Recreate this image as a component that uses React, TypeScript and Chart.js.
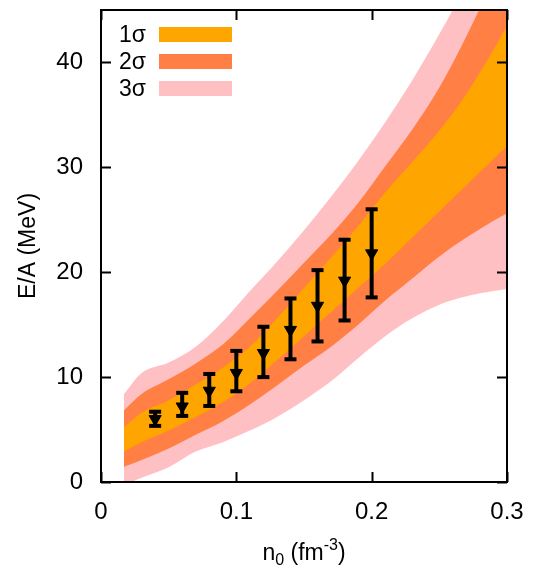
import React, { useEffect, useRef } from "react";
import { Chart, registerables } from "chart.js";
Chart.register(...registerables);

// density grid for the uncertainty bands (fm^-3)
const bandX = [0.017, 0.03, 0.05, 0.07, 0.09, 0.11, 0.13, 0.15, 0.17, 0.19, 0.21, 0.23, 0.25, 0.27, 0.29, 0.3];
const sigma3Upper = [8.4, 10.4, 11.4, 12.9, 15.3, 18.2, 21.0, 24.0, 27.2, 30.6, 34.3, 38.3, 42.7, 47.5, 53, 56];
const sigma2Upper = [6.85, 8.4, 9.8, 11.3, 13.1, 15.6, 18.2, 20.9, 23.6, 26.6, 30.1, 33.6, 37.6, 42.5, 48, 51];
const sigma1Upper = [5.2, 6.6, 7.8, 9.3, 10.9, 12.9, 15.6, 18.5, 21.4, 24.4, 27.6, 30.5, 33.5, 37.0, 41.2, 43.5];
const sigma1Lower = [2.9, 3.8, 4.9, 6.2, 7.6, 9.4, 11.6, 13.9, 16.2, 18.5, 20.8, 23.3, 25.8, 28.3, 30.8, 32.0];
const sigma2Lower = [1.45, 2.1, 3.2, 4.5, 5.8, 7.4, 9.2, 11.1, 12.9, 15.0, 17.3, 19.4, 21.5, 23.3, 24.9, 25.6];
const sigma3Lower = [-0.3, 0.4, 1.4, 2.9, 3.8, 4.9, 6.2, 7.8, 9.6, 11.8, 13.9, 15.6, 16.9, 17.7, 18.2, 18.4];

// data points with error bars
const pointX = [0.04, 0.06, 0.08, 0.1, 0.12, 0.14, 0.16, 0.18, 0.2];
const pointE = [6.0, 7.2, 8.7, 10.4, 12.3, 14.5, 16.8, 19.2, 21.8];
const errLow = [5.35, 6.3, 7.25, 8.65, 10.0, 11.7, 13.4, 15.4, 17.6];
const errHigh = [6.7, 8.5, 10.3, 12.5, 14.8, 17.5, 20.2, 23.1, 26.0];

const legendLabels = ["1σ", "2σ", "3σ"];
const bandColors = ["#ffa500", "#ff7f45", "#ffc0c4"];

const xTicks = [0, 0.1, 0.2, 0.3];
const yTicks = [0, 10, 20, 30, 40];

const FONT = "'Liberation Sans', Arial, Helvetica, sans-serif";

const toPts = (xs: number[], ys: number[]) => xs.map((x, i) => ({ x, y: ys[i] }));

const decorPlugin = {
  id: "decor",
  afterDraw(chart: any) {
    const { ctx, chartArea: a, scales } = chart;
    const xs = scales.x;
    const ys = scales.y;
    ctx.save();
    ctx.strokeStyle = "#000";
    ctx.lineWidth = 2;
    const L = 10;
    ctx.beginPath();
    xTicks.forEach((v) => {
      const px = Math.round(xs.getPixelForValue(v)) + 0.5;
      ctx.moveTo(px, a.bottom);
      ctx.lineTo(px, a.bottom - L);
      ctx.moveTo(px, a.top);
      ctx.lineTo(px, a.top + L);
    });
    yTicks.forEach((v) => {
      const py = Math.round(ys.getPixelForValue(v)) + 0.5;
      ctx.moveTo(a.left, py);
      ctx.lineTo(a.left + L, py);
      ctx.moveTo(a.right, py);
      ctx.lineTo(a.right - L, py);
    });
    ctx.stroke();
    ctx.strokeRect(a.left, a.top, a.right - a.left, a.bottom - a.top);

    // legend
    ctx.font = `23px ${FONT}`;
    ctx.textAlign = "right";
    ctx.textBaseline = "middle";
    legendLabels.forEach((lab, i) => {
      const cy = a.top + 24.5 + i * 27;
      ctx.fillStyle = "#000";
      ctx.fillText(lab, a.left + 45, cy + 1);
      ctx.fillStyle = bandColors[i];
      ctx.fillRect(a.left + 58, cy - 7.5, 73, 15);
    });

    // x-axis title with sub/superscripts
    const base = 560;
    const big = `23px ${FONT}`;
    const small = `16px ${FONT}`;
    const parts = [
      { t: "n", f: big, dy: 0 },
      { t: "0", f: small, dy: 5 },
      { t: " (fm", f: big, dy: 0 },
      { t: "-3", f: small, dy: -10 },
      { t: ")", f: big, dy: 0 },
    ];
    let total = 0;
    parts.forEach((p) => {
      ctx.font = p.f;
      total += ctx.measureText(p.t).width;
    });
    let x = (a.left + a.right) / 2 - total / 2;
    ctx.textAlign = "left";
    ctx.textBaseline = "alphabetic";
    ctx.fillStyle = "#000";
    parts.forEach((p) => {
      ctx.font = p.f;
      ctx.fillText(p.t, x, base + p.dy);
      x += ctx.measureText(p.t).width;
    });
    ctx.restore();
  },
};

export default function App() {
  const ref = useRef<HTMLCanvasElement | null>(null);
  useEffect(() => {
    if (!ref.current) return;
    Chart.defaults.font.family = FONT;
    Chart.defaults.color = "#000";

    const band = (ys: number[], color: string, fill: any, order: number) => ({
      type: "line" as const,
      data: toPts(bandX, ys),
      borderWidth: 0,
      borderColor: "rgba(0,0,0,0)",
      backgroundColor: color,
      pointRadius: 0,
      fill,
      order,
      cubicInterpolationMode: "monotone" as const,
    });

    const errData: any[] = [];
    pointX.forEach((x, i) => {
      errData.push({ x, y: errLow[i] });
      errData.push({ x, y: errHigh[i] });
      errData.push({ x, y: null });
    });

    const chart = new Chart(ref.current, {
      type: "line",
      data: {
        datasets: [
          band(sigma3Upper, bandColors[2], "+1", 6),
          band(sigma3Lower, bandColors[2], false, 6),
          band(sigma2Upper, bandColors[1], "+1", 5),
          band(sigma2Lower, bandColors[1], false, 5),
          band(sigma1Upper, bandColors[0], "+1", 4),
          band(sigma1Lower, bandColors[0], false, 4),
          {
            type: "line",
            data: errData,
            borderColor: "#000",
            borderWidth: 4,
            pointStyle: "line",
            pointRadius: 6,
            pointBorderWidth: 4,
            pointBorderColor: "#000",
            spanGaps: false,
            fill: false,
            order: 1,
          },
          {
            type: "scatter",
            data: toPts(pointX, pointE),
            pointStyle: "triangle",
            rotation: 180,
            pointRadius: 7,
            backgroundColor: "#000",
            borderColor: "#000",
            borderWidth: 1,
            showLine: false,
            order: 0,
          },
        ] as any,
      },
      options: {
        animation: false,
        responsive: false,
        events: [],
        layout: { padding: { top: 9, right: 26, left: 0, bottom: 0 } },
        plugins: {
          legend: { display: false },
          tooltip: { enabled: false },
        },
        scales: {
          x: {
            type: "linear",
            min: 0,
            max: 0.3,
            afterFit: (s: any) => {
              s.height = 91;
              s.paddingLeft = 0;
              s.paddingRight = 0;
            },
            afterBuildTicks: (s: any) => {
              s.ticks = xTicks.map((v) => ({ value: v }));
            },
            grid: { display: false, drawTicks: false },
            border: { display: false },
            ticks: {
              padding: 16,
              font: { size: 24 },
              color: "#000",
              callback: (v: any) => String(Number(Number(v).toFixed(1))),
            },
          },
          y: {
            type: "linear",
            min: 0,
            max: 45,
            afterFit: (s: any) => {
              s.width = 101;
              s.paddingTop = 0;
              s.paddingBottom = 0;
            },
            afterBuildTicks: (s: any) => {
              s.ticks = yTicks.map((v) => ({ value: v }));
            },
            grid: { display: false, drawTicks: false },
            border: { display: false },
            ticks: { padding: 18, font: { size: 24 }, color: "#000" },
            title: {
              display: true,
              text: "E/A (MeV)",
              font: { size: 23 },
              color: "#000",
              padding: { top: 15, bottom: 0 },
            },
          },
        },
      },
      plugins: [decorPlugin],
    } as any);
    return () => chart.destroy();
  }, []);

  return (
    <div style={{ position: "fixed", left: 0, top: 0, width: 533, height: 573, background: "#fff" }}>
      <canvas ref={ref} width={533} height={573} style={{ display: "block" }} />
    </div>
  );
}
